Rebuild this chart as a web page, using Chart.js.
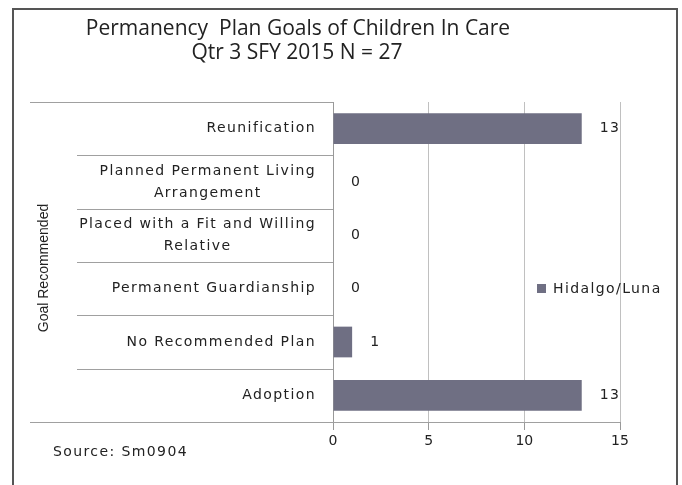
<!DOCTYPE html>
<html lang="en">
<head>
  <meta charset="UTF-8">
  <title>Permanency Plan Goals of Children In Care</title>
  <script src="https://cdn.jsdelivr.net/npm/chart.js"></script>
  <style>
    html, body { margin: 0; padding: 0; background: #ffffff; }
    #wrap { width: 682px; height: 485px; }
  </style>
</head>
<body>
  <div id="wrap"><canvas id="goalChart" width="682" height="485"></canvas></div>

  <script>
    // chart data
    const titleLines = ['Permanency  Plan Goals of Children In Care', 'Qtr 3 SFY 2015 N = 27'];
    const goals = [
      ['Reunification'],
      ['Planned Permanent Living', 'Arrangement'],
      ['Placed with a Fit and Willing', 'Relative'],
      ['Permanent Guardianship'],
      ['No Recommended Plan'],
      ['Adoption']
    ];
    const counts = [13, 0, 0, 0, 1, 13];
    const seriesName = 'Hidalgo/Luna';
    const xTicks = [0, 5, 10, 15];
    const axisTitle = 'Goal Recommended';
    const sourceNote = 'Source: Sm0904';

    const barColor = '#6f6f83';
    const labelFont = '14px "DejaVu Sans"';
    const spacing = '1.4px';

    const extras = {
      id: 'extras',
      afterDraw(chart) {
        const ctx = chart.ctx;
        const area = chart.chartArea;
        const y = chart.scales.y;
        ctx.save();

        // outer frame
        ctx.strokeStyle = '#555';
        ctx.lineWidth = 2;
        ctx.beginPath();
        ctx.moveTo(13, 485);
        ctx.lineTo(13, 9);
        ctx.lineTo(677, 9);
        ctx.lineTo(677, 485);
        ctx.stroke();

        // title
        ctx.fillStyle = '#222';
        ctx.font = '21px "Open Sans"';
        ctx.textAlign = 'center';
        ctx.textBaseline = 'middle';
        ctx.fillText(titleLines[0], 298, 29);
        ctx.fillText(titleLines[1], 297, 53);

        // category separators, stretched left like the source sheet
        ctx.strokeStyle = '#a0a0a0';
        ctx.lineWidth = 1;
        for (let i = 0; i <= goals.length; i++) {
          const py = Math.round(y.getPixelForValue(i - 0.5)) + 0.5;
          const x0 = (i === 0 || i === goals.length) ? 30 : 77;
          ctx.beginPath();
          ctx.moveTo(x0, py);
          ctx.lineTo(area.left, py);
          ctx.stroke();
        }

        // category labels: block right-aligned, lines centred within it
        ctx.fillStyle = '#222';
        ctx.font = labelFont;
        ctx.letterSpacing = spacing;
        ctx.textAlign = 'center';
        goals.forEach((lines, i) => {
          const cy = y.getPixelForValue(i);
          const w = Math.max(...lines.map(l => ctx.measureText(l).width));
          const cx = 316 - w / 2;
          const lh = 22;
          lines.forEach((l, j) => {
            ctx.fillText(l, cx, cy + (j - (lines.length - 1) / 2) * lh);
          });
        });

        // data labels
        ctx.textAlign = 'left';
        const meta = chart.getDatasetMeta(0);
        meta.data.forEach((bar, i) => {
          ctx.fillText(String(counts[i]), bar.x + 18, bar.y);
        });

        // source note
        ctx.fillText(sourceNote, 53, 452);

        // legend
        ctx.fillStyle = barColor;
        ctx.fillRect(537, 284, 9, 9);
        ctx.fillStyle = '#222';
        ctx.fillText(seriesName, 553, 289);
        ctx.letterSpacing = '0px';

        // rotated axis title
        ctx.translate(44, 268);
        ctx.rotate(-Math.PI / 2);
        ctx.textAlign = 'center';
        ctx.font = '14px "Liberation Sans Narrow", "Liberation Sans"';
        ctx.fillText(axisTitle, 0, 0);
        ctx.restore();

        // bottom axis line stretched left
        ctx.save();
        ctx.strokeStyle = '#a0a0a0';
        ctx.beginPath();
        ctx.moveTo(30, Math.round(area.bottom) + 0.5);
        ctx.lineTo(area.right, Math.round(area.bottom) + 0.5);
        ctx.stroke();
        ctx.restore();
      }
    };

    new Chart(document.getElementById('goalChart'), {
      type: 'bar',
      data: {
        labels: goals,
        datasets: [{
          label: seriesName,
          data: counts,
          backgroundColor: barColor,
          borderWidth: 0,
          categoryPercentage: 0.8,
          barPercentage: 0.72
        }]
      },
      options: {
        indexAxis: 'y',
        responsive: false,
        animation: false,
        layout: { padding: { top: 102, right: 62, left: 0, bottom: 0 } },
        scales: {
          x: {
            min: 0,
            max: 15,
            afterBuildTicks: s => { s.ticks = xTicks.map(v => ({ value: v })); },
            afterFit: s => { s.height = 63; },
            grid: { color: '#c0c0c0', tickLength: 8, tickColor: '#999' },
            border: { display: false },
            ticks: { color: '#222', font: { family: 'DejaVu Sans', size: 14 }, padding: 3 }
          },
          y: {
            afterFit: s => { s.width = 333; },
            grid: { display: false },
            border: { display: true, color: '#999' },
            ticks: { display: false }
          }
        },
        plugins: {
          legend: { display: false },
          tooltip: { enabled: false }
        }
      },
      plugins: [extras]
    });
  </script>
</body>
</html>
